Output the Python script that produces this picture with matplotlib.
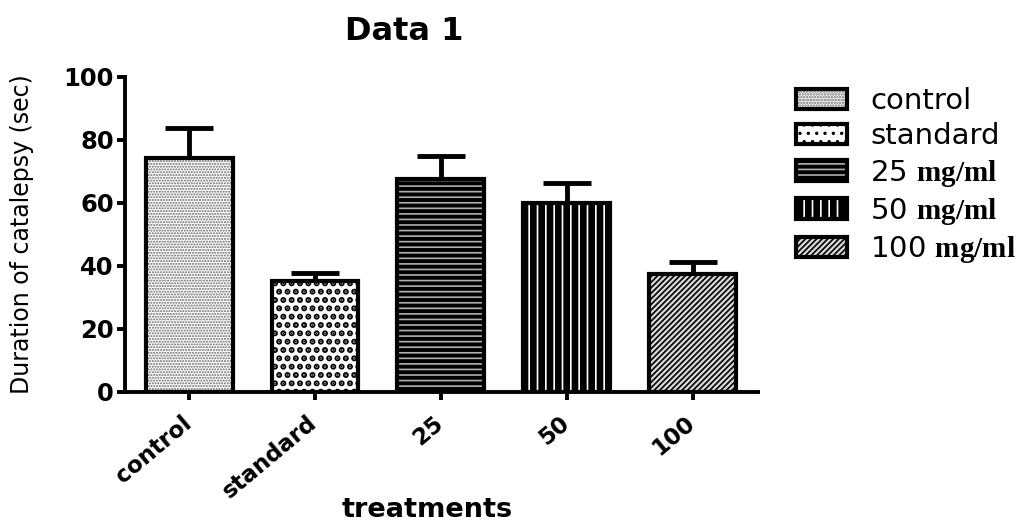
import matplotlib
matplotlib.use("Agg")
import matplotlib.pyplot as plt
import matplotlib.transforms as mtrans
import numpy as np

categories = ["control", "standard", "25", "50", "100"]
legend_labels = ["control", "standard", r"25 $\mathbf{mg/ml}$",
                 r"50 $\mathbf{mg/ml}$", r"100 $\mathbf{mg/ml}$"]
means = [74.3, 35.2, 67.5, 60.0, 37.5]
sem = [9.5, 2.6, 7.5, 6.3, 3.8]

# fill / hatch look of each bar
faces = ["white", "white", "black", "black", "#d8d8d8"]
hatch_colors = ["#666666", "black", "#b0b0b0", "white", "black"]
hatches = ["......", "..", "---", "||", "//////"]
hatch_lw = [1.0, 3.0, 1.2, 1.2, 1.2]

plt.rcParams["font.family"] = ["DejaVu Sans"]
plt.rcParams["mathtext.fontset"] = "custom"
plt.rcParams["mathtext.bf"] = "Liberation Serif:bold"
plt.rcParams["mathtext.rm"] = "Liberation Serif"
plt.rcParams["hatch.linewidth"] = 1.2

fig = plt.figure(figsize=(10.32, 5.27), dpi=100)
ax = fig.add_axes([0.1211, 0.2562, 0.6134, 0.5977])

x = np.arange(len(categories))
w = 0.69

# error bars (upper only)
ax.errorbar(x, means, yerr=[np.zeros(len(sem)), sem], fmt="none",
            ecolor="black", elinewidth=3.5, capsize=17, capthick=3.5, zorder=1)

fills = []
outlines = []
for i in range(len(categories)):
    f = ax.bar(x[i], means[i], w, color=faces[i], edgecolor=hatch_colors[i],
               hatch=hatches[i], linewidth=0, zorder=2)
    if hasattr(f.patches[0], "set_hatch_linewidth"):
        f.patches[0].set_hatch_linewidth(hatch_lw[i])
    o = ax.bar(x[i], means[i], w, fill=False, edgecolor="black",
               linewidth=3, zorder=3)
    fills.append(f.patches[0])
    outlines.append(o.patches[0])

ax.set_xlim(-0.51, 4.52)
ax.set_ylim(0, 100)
ax.set_yticks([0, 20, 40, 60, 80, 100])
ax.set_xticks(x)

for s in ["top", "right"]:
    ax.spines[s].set_visible(False)
for s in ["left", "bottom"]:
    ax.spines[s].set_linewidth(2.8)
ax.tick_params(axis="both", width=2.8, length=6, direction="out", pad=2)
ax.tick_params(axis="x", pad=8)

ax.set_xticklabels(categories, rotation=40, ha="right", va="top",
                   rotation_mode="anchor", fontweight="bold", fontsize=16.5)
shift = mtrans.ScaledTranslation(-0.08, 0.0, fig.dpi_scale_trans)
for lab in ax.get_xticklabels():
    lab.set_transform(lab.get_transform() + shift)
for lab in ax.get_yticklabels():
    lab.set_fontweight("bold")
    lab.set_fontsize(17.5)

ax.set_ylabel("Duration of catalepsy (sec)", fontsize=17)
ax.yaxis.set_label_coords(-0.143, 0.5)
fig.text(0.414, 0.033, "treatments", fontsize=19.5, fontweight="bold",
         ha="center", va="center")
fig.text(0.392, 0.94, "Data 1", fontsize=23, fontweight="bold",
         ha="center", va="center")

handles = [(fills[i], outlines[i]) for i in range(len(categories))]
fig.legend(handles, legend_labels, loc="upper left",
           bbox_to_anchor=(0.771, 0.835), frameon=False, fontsize=21,
           handlelength=1.75, handleheight=0.7, handletextpad=0.8,
           labelspacing=0.25, borderpad=0, borderaxespad=0)

fig.savefig("out.png", dpi=100)
